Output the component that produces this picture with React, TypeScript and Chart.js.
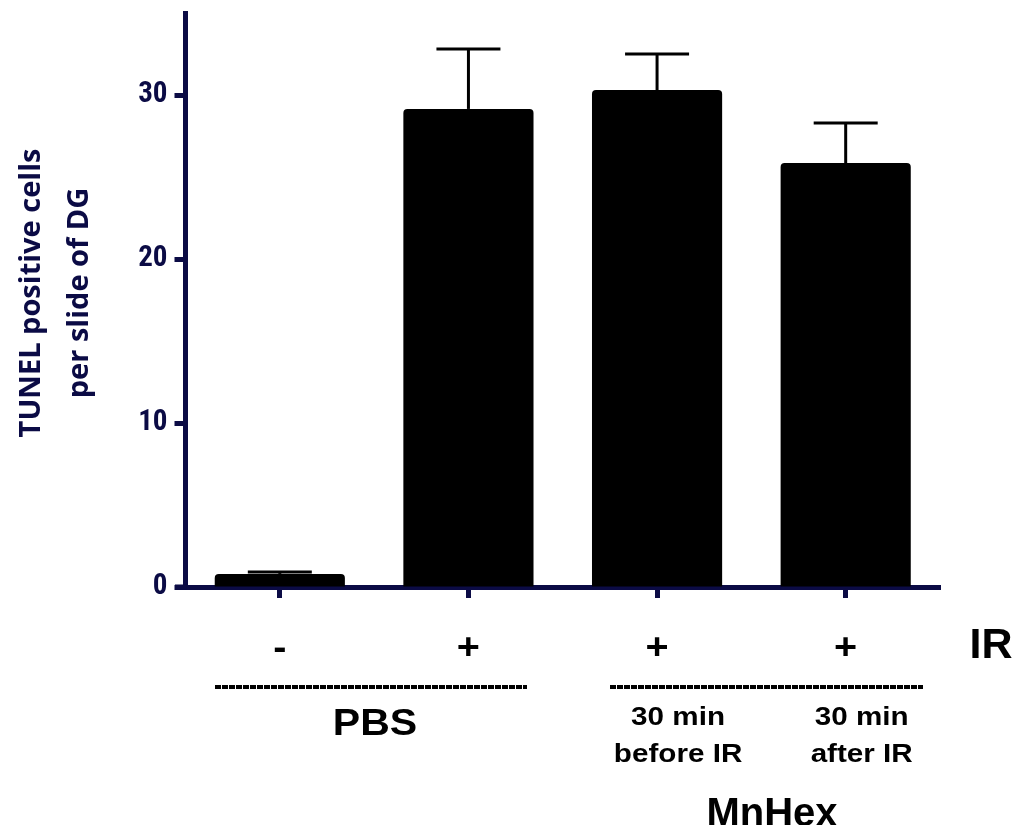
import React, { useEffect, useRef } from 'react';
import { Chart, registerables } from 'chart.js';

Chart.register(...registerables);

// ---- data ----
const categories = ['-', '+', '+', '+'];
const meanValues = [0.8, 29.15, 30.3, 25.85];
const errorTops = [0.92, 32.8, 32.5, 28.3];
const yTickValues = [0, 10, 20, 30];
const yTitleLines = ['TUNEL positive cells', 'per slide of DG'];
const irLabel = 'IR';
const groupNames = ['PBS', 'MnHex'];
const timingLabels = [['30 min', 'before IR'], ['30 min', 'after IR']];

const NAVY = '#0b0b45';

function drawStretched(ctx: CanvasRenderingContext2D, text: string, x: number, y: number, font: string, sx: number) {
  ctx.save();
  ctx.translate(x, y);
  ctx.scale(sx, 1);
  ctx.font = font;
  ctx.fillText(text, 0, 0);
  ctx.restore();
}

const annotationPlugin = {
  id: 'annotations',
  afterDatasetsDraw(chart: any) {
    const ctx = chart.ctx as CanvasRenderingContext2D;
    const x = chart.scales.x;
    const y = chart.scales.y;
    ctx.save();
    ctx.strokeStyle = '#000';
    ctx.lineWidth = 3;
    ctx.lineCap = 'butt';
    errorTops.forEach((top, i) => {
      const cx = x.getPixelForValue(i);
      const yMean = y.getPixelForValue(meanValues[i]);
      const yTop = y.getPixelForValue(top);
      ctx.beginPath();
      ctx.moveTo(cx, yMean);
      ctx.lineTo(cx, yTop);
      ctx.stroke();
      ctx.beginPath();
      ctx.moveTo(cx - 32, yTop);
      ctx.lineTo(cx + 32, yTop);
      ctx.stroke();
    });
    ctx.restore();
  },
  afterDraw(chart: any) {
    const ctx = chart.ctx as CanvasRenderingContext2D;
    const x = chart.scales.x;
    const area = chart.chartArea;
    ctx.save();
    // x axis extension to the left of the y axis
    ctx.fillStyle = NAVY;
    ctx.fillRect(175, area.bottom - 2.5, area.left - 175 + 1, 5);

    // y axis title
    ctx.fillStyle = NAVY;
    ctx.textAlign = 'center';
    ctx.textBaseline = 'middle';
    ctx.font = 'bold 29px "Open Sans", "Noto Sans", sans-serif';
    const titleX = [32, 80];
    yTitleLines.forEach((line, i) => {
      ctx.save();
      ctx.translate(titleX[i], 293);
      ctx.rotate(-Math.PI / 2);
      ctx.fillText(line, 0, 0);
      ctx.restore();
    });

    // category +/- labels
    ctx.fillStyle = '#000';
    ctx.textAlign = 'center';
    ctx.textBaseline = 'alphabetic';
    categories.forEach((c, i) => {
      const cx = x.getPixelForValue(i);
      drawStretched(ctx, c, cx, 659, 'bold 36px "Liberation Sans", Arial, sans-serif', 1.1);
    });
    ctx.font = 'bold 43px "Liberation Sans", Arial, sans-serif';
    ctx.fillText(irLabel, 991, 658);

    // group lines
    ctx.strokeStyle = '#000';
    ctx.lineWidth = 4;
    ctx.setLineDash([6, 1]);
    const seg = (a: number, b: number) => {
      ctx.beginPath();
      ctx.moveTo(a, 687);
      ctx.lineTo(b, 687);
      ctx.stroke();
    };
    seg(215, 527);
    seg(610, 923);
    ctx.setLineDash([]);

    // group labels
    drawStretched(ctx, groupNames[0], 375, 735, 'bold 36px "Liberation Sans", Arial, sans-serif', 1.14);
    drawStretched(ctx, groupNames[1], 772, 826, 'bold 40px "Liberation Sans", Arial, sans-serif', 1.0);
    const tx = [x.getPixelForValue(2) + 21, x.getPixelForValue(3) + 16];
    timingLabels.forEach((lines, i) => {
      drawStretched(ctx, lines[0], tx[i], 725, 'bold 26px "Liberation Sans", Arial, sans-serif', 1.14);
      drawStretched(ctx, lines[1], tx[i], 762, 'bold 26px "Liberation Sans", Arial, sans-serif', 1.14);
    });
    ctx.restore();
  },
};

export default function App() {
  const canvasRef = useRef<HTMLCanvasElement | null>(null);

  useEffect(() => {
    const canvas = canvasRef.current;
    if (!canvas) return;
    const chart = new Chart(canvas, {
      type: 'bar',
      data: {
        labels: categories,
        datasets: [
          {
            data: meanValues,
            backgroundColor: '#000',
            borderWidth: 0,
            borderRadius: 4,
            borderSkipped: 'bottom',
            barPercentage: 0.69,
            categoryPercentage: 1,
          },
        ],
      },
      options: {
        responsive: false,
        animation: false,
        layout: { padding: { left: 0, right: 76, top: 13, bottom: 0 } },
        plugins: {
          legend: { display: false },
          tooltip: { enabled: false },
          title: { display: false },
        },
        scales: {
          x: {
            type: 'category',
            offset: true,
            grid: {
              offset: false,
              drawOnChartArea: false,
              drawTicks: true,
              tickLength: 11,
              tickWidth: 5,
              tickColor: NAVY,
            },
            border: { display: true, color: NAVY, width: 5 },
            ticks: { display: false },
            afterFit: (scale: any) => {
              scale.height = 238;
              scale.paddingLeft = 0;
              scale.paddingRight = 0;
            },
          },
          y: {
            type: 'linear',
            min: 0,
            max: 35,
            afterBuildTicks: (scale: any) => {
              scale.ticks = yTickValues.map((v) => ({ value: v }));
            },
            grid: {
              drawOnChartArea: false,
              drawTicks: true,
              tickLength: 11,
              tickWidth: 5,
              tickColor: NAVY,
            },
            border: { display: true, color: NAVY, width: 5 },
            ticks: {
              color: NAVY,
              padding: 7,
              font: { family: '"Liberation Sans Narrow", "Roboto Condensed", "Liberation Sans", Arial', size: 29, weight: 'bold' },
            },
            afterFit: (scale: any) => {
              scale.width = 185.5;
              scale.paddingTop = 0;
              scale.paddingBottom = 0;
            },
          },
        },
      },
      plugins: [annotationPlugin],
    });
    return () => chart.destroy();
  }, []);

  return (
    <div style={{ position: 'fixed', left: 0, top: 0, width: 1016, height: 825, background: '#fff' }}>
      <canvas ref={canvasRef} width={1016} height={825} style={{ width: 1016, height: 825, display: 'block' }} />
    </div>
  );
}
